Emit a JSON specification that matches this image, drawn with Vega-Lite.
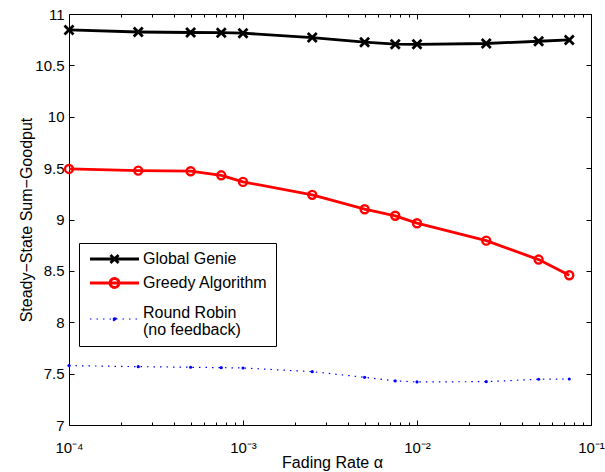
{
  "$schema": "https://vega.github.io/schema/vega-lite/v6.json",
  "width": 522,
  "height": 411,
  "autosize": "none",
  "padding": {"left": 69, "top": 14, "right": 14, "bottom": 47},
  "background": "white",
  "config": {
    "view": {"stroke": "#000000", "strokeWidth": 1},
    "font": "Liberation Sans",
    "axis": {"grid": false, "domain": false, "tickColor": "#000000", "labelColor": "#000000", "titleColor": "#000000", "labelFont": "Liberation Sans", "titleFont": "Liberation Sans", "titleFontWeight": "normal", "labelFontSize": 15, "titleFontSize": 16, "tickWidth": 1}
  },
  "data": {"values": [
    {"a": 0.0001, "v": 10.845, "s": "Global Genie"},
    {"a": 0.00025, "v": 10.825, "s": "Global Genie"},
    {"a": 0.0005, "v": 10.82, "s": "Global Genie"},
    {"a": 0.00075, "v": 10.818, "s": "Global Genie"},
    {"a": 0.001, "v": 10.813, "s": "Global Genie"},
    {"a": 0.0025, "v": 10.771, "s": "Global Genie"},
    {"a": 0.005, "v": 10.726, "s": "Global Genie"},
    {"a": 0.0075, "v": 10.706, "s": "Global Genie"},
    {"a": 0.01, "v": 10.705, "s": "Global Genie"},
    {"a": 0.025, "v": 10.713, "s": "Global Genie"},
    {"a": 0.05, "v": 10.735, "s": "Global Genie"},
    {"a": 0.075, "v": 10.748, "s": "Global Genie"},
    {"a": 0.0001, "v": 9.492, "s": "Greedy Algorithm"},
    {"a": 0.00025, "v": 9.476, "s": "Greedy Algorithm"},
    {"a": 0.0005, "v": 9.47, "s": "Greedy Algorithm"},
    {"a": 0.00075, "v": 9.43, "s": "Greedy Algorithm"},
    {"a": 0.001, "v": 9.366, "s": "Greedy Algorithm"},
    {"a": 0.0025, "v": 9.24, "s": "Greedy Algorithm"},
    {"a": 0.005, "v": 9.1, "s": "Greedy Algorithm"},
    {"a": 0.0075, "v": 9.036, "s": "Greedy Algorithm"},
    {"a": 0.01, "v": 8.964, "s": "Greedy Algorithm"},
    {"a": 0.025, "v": 8.794, "s": "Greedy Algorithm"},
    {"a": 0.05, "v": 8.61, "s": "Greedy Algorithm"},
    {"a": 0.075, "v": 8.457, "s": "Greedy Algorithm"},
    {"a": 0.0001, "v": 7.578, "s": "Round Robin"},
    {"a": 0.00025, "v": 7.568, "s": "Round Robin"},
    {"a": 0.0005, "v": 7.562, "s": "Round Robin"},
    {"a": 0.00075, "v": 7.558, "s": "Round Robin"},
    {"a": 0.001, "v": 7.555, "s": "Round Robin"},
    {"a": 0.0025, "v": 7.519, "s": "Round Robin"},
    {"a": 0.005, "v": 7.464, "s": "Round Robin"},
    {"a": 0.0075, "v": 7.429, "s": "Round Robin"},
    {"a": 0.01, "v": 7.419, "s": "Round Robin"},
    {"a": 0.025, "v": 7.422, "s": "Round Robin"},
    {"a": 0.05, "v": 7.445, "s": "Round Robin"},
    {"a": 0.075, "v": 7.448, "s": "Round Robin"}
  ]},
  "resolve": {"axis": {"x": "independent", "y": "independent"}},
  "layer": [
    {
      "transform": [{"filter": "datum.s !== 'Round Robin'"}],
      "mark": {"type": "line", "strokeWidth": 2.8, "strokeJoin": "round"},
      "encoding": {
        "x": {"field": "a", "type": "quantitative", "scale": {"type": "log", "domain": [0.0001, 0.1], "nice": false},
          "axis": {"orient": "bottom", "values": [0.0001, 0.001, 0.01, 0.1], "tickSize": -5,
            "labelExpr": "datum.value < 0.0005 ? '10⁻⁴' : datum.value < 0.005 ? '10⁻³' : datum.value < 0.05 ? '10⁻²' : '10⁻¹'",
            "labelDx": 1.5, "labelBaseline": "top", "labelPadding": 20, "labelFlush": false, "labelOverlap": false,
            "title": "Fading Rate α", "titleX": 263, "titleY": 37, "titleBaseline": "middle", "titleAlign": "center"}},
        "y": {"field": "v", "type": "quantitative", "scale": {"domain": [7, 11], "nice": false, "zero": false},
          "axis": {"orient": "left", "values": [7, 7.5, 8, 8.5, 9, 9.5, 10, 10.5, 11], "format": "~g", "tickSize": -5, "labelPadding": 10, "labelFlush": false, "labelOverlap": false, "labelBaseline": "middle",
            "title": "Steady−State Sum−Goodput", "titleX": -43, "titleY": 205.5, "titleAngle": -90, "titleBaseline": "middle", "titleAlign": "center"}},
        "color": {"field": "s", "type": "nominal",
          "scale": {"domain": ["Global Genie", "Greedy Algorithm", "Round Robin"], "range": ["#000000", "#ff0000", "#0000ff"]},
          "legend": {
            "orient": "none", "legendX": 10, "legendY": 229, "title": null,
            "strokeColor": "#000000", "fillColor": "#ffffff", "padding": 8,
            "labelFont": "Liberation Sans", "labelFontSize": 16, "labelColor": "#000000",
            "symbolSize": 100, "labelOffset": 40, "rowPadding": 3, "labelLimit": 300,
            "labelExpr": "datum.label === 'Round Robin' ? ['Round Robin', '(no feedback)'] : datum.label",
            "encode": {
              "labels": {"update": {"lineHeight": {"value": 17}, "dy": {"signal": "datum.value === 'Round Robin' ? 8 : 0"}}},
              "symbols": {"update": {
                "shape": {"signal": "datum.value === 'Global Genie' ? 'M-1,0L8.8,0M3.1,-0.8L4.7,0.8M3.1,0.8L4.7,-0.8' : datum.value === 'Greedy Algorithm' ? 'M-1,0L8.8,0M4.8,0A0.9,0.9 0 1,0 3.0,0A0.9,0.9 0 1,0 4.8,0' : 'M-1,2.8L8.8,2.8M4.25,2.8A0.35,0.35 0 1,0 3.55,2.8A0.35,0.35 0 1,0 4.25,2.8Z'"},
                "stroke": {"signal": "datum.value === 'Global Genie' ? '#000000' : datum.value === 'Greedy Algorithm' ? '#ff0000' : '#0000ff'"},
                "fill": {"signal": "datum.value === 'Round Robin' ? '#0000ff' : 'transparent'"},
                "strokeWidth": {"signal": "datum.value === 'Round Robin' ? 1.2 : 2.8"},
                "strokeDash": {"signal": "datum.value === 'Round Robin' ? [1.5, 5] : [1, 0]"},
                "opacity": {"value": 1}
              }}
            }
          }}
      }
    },
    {
      "transform": [{"filter": "datum.s === 'Round Robin'"}],
      "mark": {"type": "line", "strokeWidth": 1.2, "strokeDash": [1.5, 5]},
      "encoding": {
        "x": {"field": "a", "type": "quantitative", "axis": null},
        "y": {"field": "v", "type": "quantitative",
          "axis": {"orient": "right", "values": [7, 7.5, 8, 8.5, 9, 9.5, 10, 10.5, 11], "tickSize": -5, "labels": false, "title": null}},
        "color": {"field": "s", "type": "nominal"}
      }
    },
    {
      "transform": [{"filter": "datum.s === 'Global Genie'"}],
      "mark": {"type": "point", "shape": "M-1,-1L1,1M-1,1L1,-1", "size": 81, "filled": false, "stroke": "#000000", "strokeWidth": 2.8, "opacity": 1},
      "encoding": {
        "x": {"field": "a", "type": "quantitative",
          "axis": {"orient": "bottom", "values": [0.0002, 0.0003, 0.0004, 0.0005, 0.0006, 0.0007, 0.0008, 0.0009, 0.002, 0.003, 0.004, 0.005, 0.006, 0.007, 0.008, 0.009, 0.02, 0.03, 0.04, 0.05, 0.06, 0.07, 0.08, 0.09], "tickSize": -3, "labels": false, "title": null}},
        "y": {"field": "v", "type": "quantitative", "axis": null}
      }
    },
    {
      "transform": [{"filter": "datum.s === 'Greedy Algorithm'"}],
      "mark": {"type": "point", "shape": "circle", "size": 64, "filled": false, "stroke": "#ff0000", "strokeWidth": 2.4, "opacity": 1},
      "encoding": {
        "x": {"field": "a", "type": "quantitative",
          "axis": {"orient": "top", "values": [0.0001, 0.001, 0.01, 0.1], "tickSize": -5, "labels": false, "title": null}},
        "y": {"field": "v", "type": "quantitative", "axis": null}
      }
    },
    {
      "transform": [{"filter": "datum.s === 'Round Robin'"}],
      "mark": {"type": "point", "shape": "circle", "size": 10, "filled": true, "fill": "#0000ff", "opacity": 1},
      "encoding": {
        "x": {"field": "a", "type": "quantitative",
          "axis": {"orient": "top", "values": [0.0002, 0.0003, 0.0004, 0.0005, 0.0006, 0.0007, 0.0008, 0.0009, 0.002, 0.003, 0.004, 0.005, 0.006, 0.007, 0.008, 0.009, 0.02, 0.03, 0.04, 0.05, 0.06, 0.07, 0.08, 0.09], "tickSize": -3, "labels": false, "title": null}},
        "y": {"field": "v", "type": "quantitative", "axis": null}
      }
    }
  ]
}
